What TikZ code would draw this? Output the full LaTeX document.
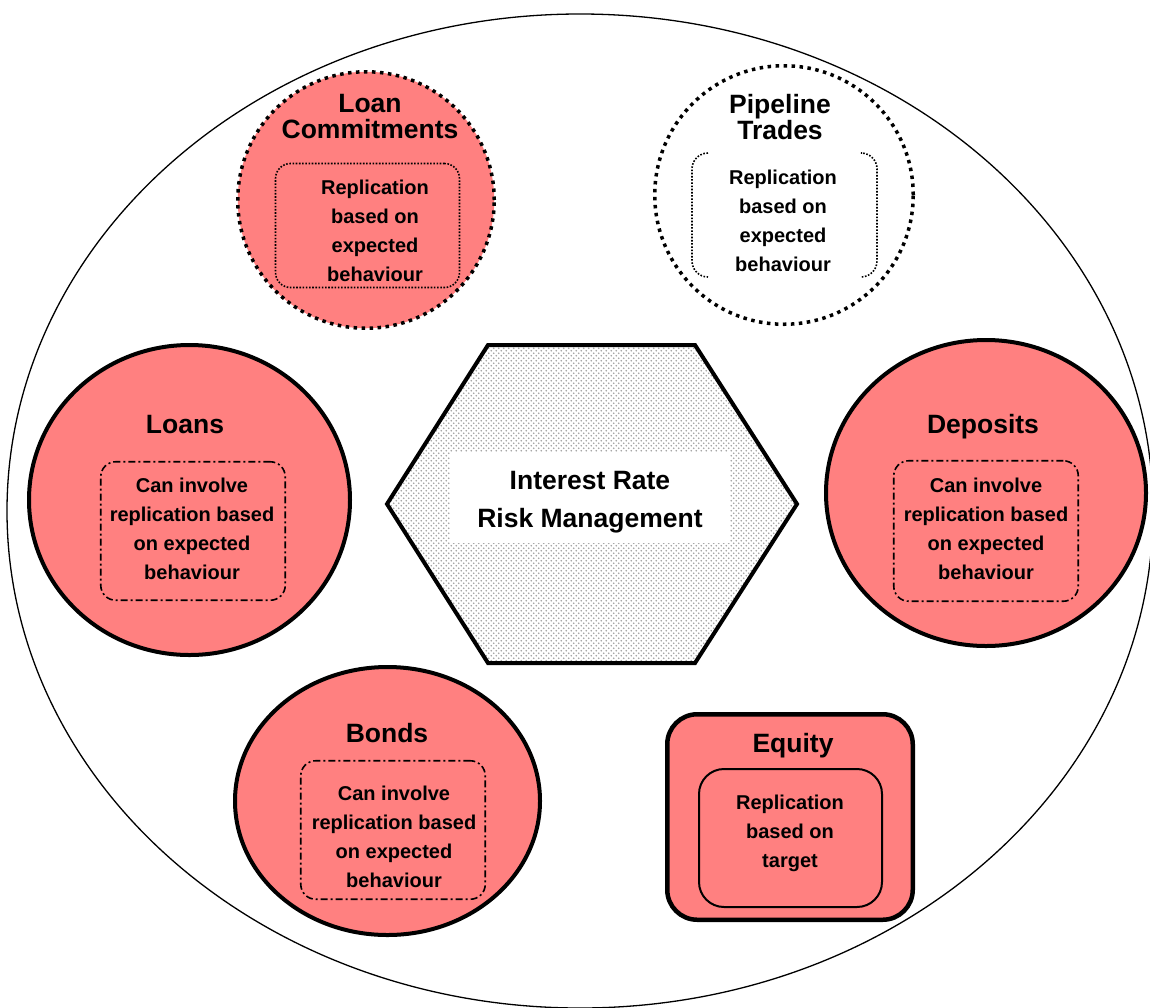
\documentclass[tikz,border=0pt]{standalone}
\usepackage{fontspec}
\setmainfont{Liberation Sans}
\usetikzlibrary{shapes.geometric,patterns}
\definecolor{salmon}{RGB}{255,128,128}
\pgfdeclarepatternformonly{halftone}{\pgfqpoint{-1pt}{-1pt}}{\pgfqpoint{6pt}{6pt}}{\pgfqpoint{5pt}{5pt}}{%
  \pgfpathcircle{\pgfqpoint{1.25pt}{1.25pt}}{0.95pt}%
  \pgfpathcircle{\pgfqpoint{3.75pt}{3.75pt}}{0.95pt}%
  \pgfusepath{fill}}
\tikzset{
  titletext/.style={font=\bfseries\fontsize{26.5}{26.5}\selectfont, inner sep=0pt, align=center},
  hextext/.style={font=\bfseries\fontsize{26.5}{38}\selectfont, inner sep=0pt, align=center},
  bodytext/.style={font=\bfseries\fontsize{20}{29}\selectfont, inner sep=0pt, align=center},
  bigcircle/.style={ellipse, draw=black, line width=4pt, fill=salmon, inner sep=0pt},
  dotborder/.style={draw=black, line width=3.5pt, dash pattern=on 3.5pt off 4.5pt},
  finedots/.style={draw=black, line width=1.6pt, dash pattern=on 1.6pt off 1.6pt},
  dashdot/.style={draw=black, line width=1.6pt, dash pattern=on 7pt off 3pt on 2pt off 3pt},
  innerbox/.style={rectangle, inner sep=0pt},
}
\begin{document}
\begin{tikzpicture}[x=1pt,y=-1pt]
\useasboundingbox (0,0) rectangle (1150,1007);
\clip (0,0) rectangle (1150,1007);
\fill[white] (0,0) rectangle (1150,1007);

% outer ellipse
\node[ellipse, draw=black, line width=1.3pt, minimum width=1146, minimum height=994, inner sep=0pt] (outer) at (580,511) {};

% Loan Commitments
\node[circle, dotborder, fill=salmon, minimum size=256.5, inner sep=0pt] (lc) at (366,200) {};
\node[innerbox, finedots, rounded corners=15, minimum width=184, minimum height=124] (lcbox) at (367.5,225.5) {};
\node[titletext] (lctitle) at (370,116.5) {Loan\\Commitments};
\node[bodytext] (lctext) at (375,231.3) {Replication\\based on\\expected\\behaviour};

% Pipeline Trades
\node[circle, dotborder, fill=white, minimum size=258.5, inner sep=0pt] (pt) at (784,195) {};
\coordinate (ptl1) at (708,153);
\coordinate (ptl2) at (692,153);
\coordinate (ptl3) at (692,277);
\coordinate (ptl4) at (708,277);
\coordinate (ptr1) at (862,153);
\coordinate (ptr2) at (877,153);
\coordinate (ptr3) at (877,277);
\coordinate (ptr4) at (862,277);
\draw[finedots, rounded corners=16] (ptl1) -- (ptl2) -- (ptl3) -- (ptl4);
\draw[finedots, rounded corners=16] (ptr1) -- (ptr2) -- (ptr3) -- (ptr4);
\node[titletext] (pttitle) at (780,117) {Pipeline\\Trades};
\node[bodytext] (pttext) at (783,221.3) {Replication\\based on\\expected\\behaviour};

% Hexagon
\coordinate (h1) at (387,504);
\coordinate (h2) at (488,345);
\coordinate (h3) at (695,345);
\coordinate (h4) at (797,504);
\coordinate (h5) at (695,663);
\coordinate (h6) at (488,663);
\fill[white] (h1) -- (h2) -- (h3) -- (h4) -- (h5) -- (h6) -- cycle;
\fill[pattern=halftone, pattern color=gray!75] (h1) -- (h2) -- (h3) -- (h4) -- (h5) -- (h6) -- cycle;
\fill[white] (450,452) rectangle (730,543);
\draw[line width=4pt, line join=miter] (h1) -- (h2) -- (h3) -- (h4) -- (h5) -- (h6) -- cycle;
\node[hextext] (hextitle) at (590,502.3) {Interest Rate\\Risk Management};

% Loans
\node[bigcircle, minimum width=321, minimum height=310] (loans) at (189.5,500) {};
\node[innerbox, dashdot, rounded corners=15, minimum width=184.5, minimum height=138.5] (loansbox) at (193,531) {};
\node[titletext, anchor=base] (loanstitle) at (185,433) {Loans};
\node[bodytext] (loanstext) at (192,528.8) {Can involve\\replication based\\on expected\\behaviour};

% Deposits
\node[bigcircle, minimum width=320, minimum height=306] (dep) at (986,493) {};
\node[innerbox, dashdot, rounded corners=15, minimum width=184.5, minimum height=140.5] (depbox) at (986,531) {};
\node[titletext, anchor=base] (deptitle) at (983,433) {Deposits};
\node[bodytext] (deptext) at (986,528.8) {Can involve\\replication based\\on expected\\behaviour};

% Bonds
\node[bigcircle, minimum width=305, minimum height=268] (bonds) at (387.5,801) {};
\node[innerbox, dashdot, rounded corners=15, minimum width=184.5, minimum height=138.5] (bondsbox) at (393,830) {};
\node[titletext, anchor=base] (bondstitle) at (387,742) {Bonds};
\node[bodytext] (bondstext) at (394,836.4) {Can involve\\replication based\\on expected\\behaviour};

% Equity
\node[innerbox, draw=black, line width=4.5pt, fill=salmon, rounded corners=30, minimum width=245.5, minimum height=205.5] (eq) at (790,817) {};
\node[innerbox, draw=black, line width=2pt, fill=salmon, rounded corners=25, minimum width=183, minimum height=138] (eqbox) at (790.5,838) {};
\node[titletext, anchor=base] (eqtitle) at (793,752) {Equity};
\node[bodytext] (eqtext) at (790,833.5) {Replication\\based on\\target};
\end{tikzpicture}
\end{document}
